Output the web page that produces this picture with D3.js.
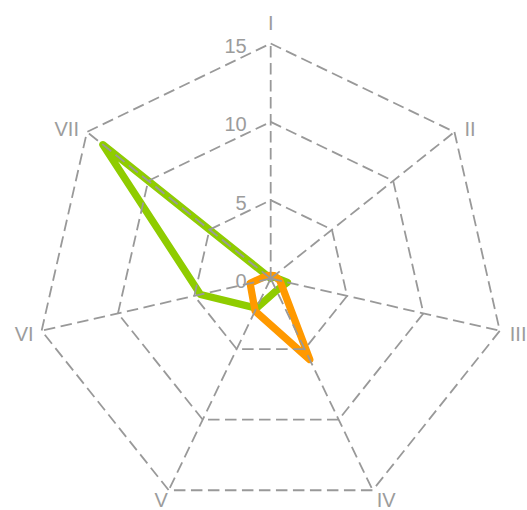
<!DOCTYPE html>
<html>
<head>
<meta charset="utf-8">
<script src="https://cdn.jsdelivr.net/npm/d3@7"></script>
<style>
  html, body { margin: 0; padding: 0; background: #fff; }
  svg { display: block; }
  text { font-family: "Liberation Sans", Arial, sans-serif; }
</style>
</head>
<body>
<svg id="chart" width="527" height="510"></svg>
<script>
// ---- data ----
const axes = ["I", "II", "III", "IV", "V", "VI", "VII"];
const greenValues  = [0.0, 0.2, 1.1, 0.85, 2.1, 4.6, 13.7];
const orangeValues = [0.2, 0.3, 0.6, 5.75, 2.3, 1.35, 0.3];
const ringTicks = [5, 10, 15];
const tickLabels = [0, 5, 10, 15];
const seriesColors = ["#8fcc00", "#ff9900"];

// ---- layout ----
const svg = d3.select("#chart");
const cx = 270.7, cy = 278.5;
const rMax = 15;
const r = d3.scaleLinear().domain([0, rMax]).range([0, 235]);
const angle = d3.scaleLinear().domain([0, axes.length]).range([0, 2 * Math.PI]);
const gridColor = "#999999";

const g = svg.append("g").attr("transform", `translate(${cx},${cy})`);

const radial = d3.lineRadial()
  .angle((d, i) => angle(i))
  .radius(d => r(d))
  .curve(d3.curveLinearClosed);

// series (drawn under the grid)
[greenValues, orangeValues].forEach((vals, k) => {
  g.append("path")
    .datum(vals)
    .attr("d", radial)
    .attr("fill", "none")
    .attr("stroke", seriesColors[k])
    .attr("stroke-width", 7.3)
    .attr("stroke-linejoin", "round");
});

// rings
ringTicks.forEach(t => {
  g.append("path")
    .datum(axes.map(() => t))
    .attr("d", radial)
    .attr("fill", "none")
    .attr("stroke", gridColor)
    .attr("stroke-width", 1.8)
    .attr("stroke-dasharray", "11.5,5.5");
});

// spokes
axes.forEach((a, i) => {
  const th = angle(i);
  const x = Math.sin(th) * r(rMax), y = -Math.cos(th) * r(rMax);
  g.append("line")
    .attr("x1", 0).attr("y1", 0)
    .attr("x2", x).attr("y2", y)
    .attr("stroke", gridColor)
    .attr("stroke-width", 1.8)
    .attr("stroke-dasharray", "11.5,5.5");
});

// axis labels
axes.forEach((a, i) => {
  const th = angle(i);
  const sx = Math.sin(th), cyv = -Math.cos(th);
  const vx = sx * r(rMax), vy = cyv * r(rMax);
  let x = vx, y = vy, anchor = "middle";
  if (Math.abs(sx) < 0.1) {            // top
    y = vy - 13.5;
  } else if (cyv > 0.5) {              // bottom
    y = vy + 17;
    anchor = sx > 0 ? "start" : "end";
    x = sx > 0 ? vx + 4 : vx - 1;
  } else {                             // sides
    anchor = sx > 0 ? "start" : "end";
    x = sx > 0 ? vx + 10 : vx - 8;
    const centerY = vy + (cyv < 0 ? -3 : 3.5);
    y = centerY + 7.2;
  }
  g.append("text")
    .attr("x", x).attr("y", y)
    .attr("text-anchor", anchor)
    .attr("font-size", 20)
    .attr("fill", "#9c9c9c")
    .text(a);
});

// radial tick labels
tickLabels.forEach(t => {
  g.append("text")
    .attr("x", -24)
    .attr("y", -r(t) + 9.5)
    .attr("text-anchor", "end")
    .attr("font-size", 20)
    .attr("fill", "#9c9c9c")
    .text(t);
});
</script>
</body>
</html>
